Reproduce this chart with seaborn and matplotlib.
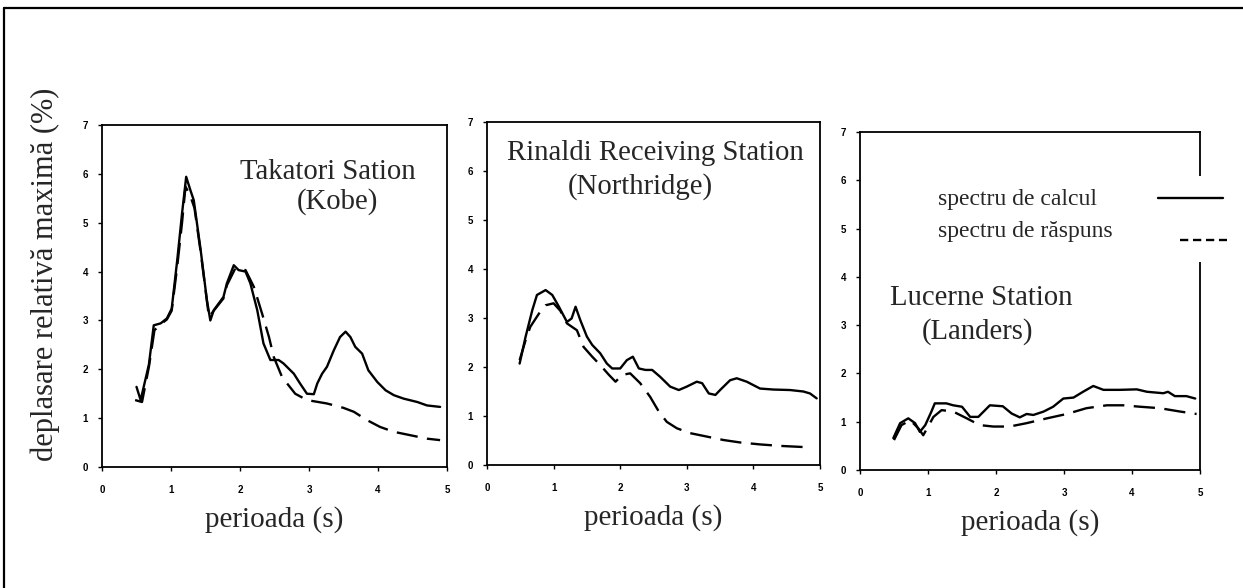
import numpy as np
import pandas as pd
import matplotlib
matplotlib.use("Agg")
import matplotlib.pyplot as plt
from matplotlib.lines import Line2D
from matplotlib.patches import Rectangle
import seaborn as sns

# ---------------- data ----------------
kobe_calc_x = [0.50,0.56,0.68,0.75,0.85,0.94,1.01,1.09,1.16,1.22,1.28,1.33,1.43,1.52,1.57,1.62,1.76,1.81,1.91,1.98,
               2.08,2.15,2.25,2.34,2.44,2.56,2.63,2.78,2.87,2.97,3.07,3.12,3.19,3.26,3.36,3.45,3.53,3.60,3.67,3.77,
               3.86,3.99,4.11,4.23,4.37,4.57,4.71,4.90]
kobe_calc_y = [1.64,1.37,2.10,2.90,2.94,3.04,3.24,4.23,5.19,5.94,5.67,5.46,4.44,3.42,3.00,3.21,3.48,3.76,4.13,4.03,
               4.00,3.76,3.21,2.53,2.19,2.19,2.12,1.91,1.71,1.50,1.49,1.71,1.91,2.05,2.39,2.66,2.77,2.66,2.46,2.32,
               1.98,1.74,1.57,1.47,1.40,1.33,1.26,1.23]
kobe_resp_x = [0.48,0.58,0.68,0.76,0.85,0.94,1.01,1.09,1.16,1.21,1.28,1.34,1.43,1.55,1.62,1.76,1.81,1.93,2.08,2.20,
               2.32,2.42,2.49,2.61,2.80,2.97,3.26,3.50,3.65,3.84,4.03,4.23,4.47,4.71,4.90]
kobe_resp_y = [1.37,1.33,2.05,2.80,2.92,3.02,3.20,4.10,5.00,5.74,5.55,5.30,4.40,3.07,3.20,3.45,3.72,4.06,4.03,3.69,
               3.14,2.66,2.25,1.84,1.50,1.37,1.30,1.21,1.13,0.96,0.82,0.72,0.65,0.58,0.55]

north_calc_x = [0.49,0.58,0.68,0.75,0.88,0.98,1.08,1.20,1.27,1.33,1.40,1.50,1.58,1.70,1.80,1.88,2.00,2.10,2.19,2.28,
                2.38,2.48,2.60,2.75,2.88,3.00,3.15,3.23,3.33,3.43,3.50,3.65,3.75,3.90,4.10,4.30,4.55,4.75,4.85,4.95]
north_calc_y = [2.07,2.62,3.16,3.47,3.57,3.47,3.23,2.92,2.99,3.23,2.96,2.62,2.45,2.28,2.07,1.97,1.97,2.14,2.21,1.97,
                1.94,1.94,1.80,1.60,1.53,1.60,1.70,1.67,1.46,1.43,1.53,1.73,1.77,1.70,1.56,1.54,1.53,1.50,1.46,1.36]
north_resp_x = [0.49,0.58,0.65,0.78,0.88,1.00,1.10,1.20,1.35,1.45,1.58,1.70,1.83,1.93,2.03,2.15,2.30,2.45,2.58,2.70,
                2.85,3.05,3.30,3.55,3.80,4.10,4.40,4.85]
north_resp_y = [2.14,2.55,2.82,3.09,3.26,3.30,3.15,2.89,2.75,2.41,2.21,2.04,1.84,1.70,1.84,1.87,1.67,1.39,1.09,0.88,
                0.75,0.65,0.58,0.51,0.46,0.42,0.39,0.36]

land_calc_x = [0.49,0.59,0.71,0.81,0.88,0.96,1.05,1.10,1.27,1.37,1.50,1.62,1.74,1.91,2.10,2.23,2.35,2.45,2.55,2.70,
               2.84,2.99,3.14,3.28,3.43,3.58,3.82,4.07,4.22,4.46,4.53,4.63,4.80,4.93]
land_calc_y = [0.66,0.97,1.07,0.97,0.79,0.93,1.21,1.38,1.38,1.34,1.31,1.10,1.10,1.34,1.32,1.17,1.09,1.16,1.14,1.21,
               1.31,1.48,1.50,1.62,1.74,1.66,1.66,1.67,1.62,1.59,1.62,1.53,1.53,1.48]
land_resp_x = [0.50,0.61,0.74,0.86,0.93,1.08,1.20,1.37,1.57,1.76,1.96,2.20,2.45,2.75,3.04,3.33,3.63,3.87,4.12,4.41,
               4.71,4.95]
land_resp_y = [0.62,0.93,1.03,0.86,0.72,1.10,1.24,1.21,1.07,0.93,0.90,0.90,0.97,1.07,1.16,1.28,1.34,1.34,1.31,1.28,
               1.21,1.16]

x_ticks = [0, 1, 2, 3, 4, 5]
y_ticks = [0, 1, 2, 3, 4, 5, 6, 7]
station_names = ["Takatori Sation", "Rinaldi Receiving Station", "Lucerne Station"]
quake_names = ["(Kobe)", "(Northridge)", "(Landers)"]
series_labels = ["spectru de calcul", "spectru de răspuns"]
x_label = "perioada (s)"
y_label = "deplasare relativă maximă (%)"

# ---------------- style ----------------
sns.set_theme(style="white")
plt.rcParams["font.family"] = ["Liberation Serif", "DejaVu Serif"]
plt.rcParams["axes.edgecolor"] = "black"

W, H = 1243, 588
fig = plt.figure(figsize=(W / 100, H / 100), dpi=100)
fig.patch.set_facecolor("white")

def fx(px):
    return px / W

def fy(py):
    return 1 - py / H

# axes boxes in pixels: (left, top, right, bottom)
boxes = [(102, 125, 447, 467), (487, 122, 820, 465), (860, 132, 1200, 470)]
panels = [
    (kobe_calc_x, kobe_calc_y, kobe_resp_x, kobe_resp_y),
    (north_calc_x, north_calc_y, north_resp_x, north_resp_y),
    (land_calc_x, land_calc_y, land_resp_x, land_resp_y),
]
axes = []
LW = 1.7
DASH = (9, 4)
for (l, t, r, b), (cx, cy, rx, ry) in zip(boxes, panels):
    ax = fig.add_axes([fx(l), fy(b), fx(r) - fx(l), fy(t) - fy(b)])
    df_c = pd.DataFrame({"x": cx, "y": cy})
    df_r = pd.DataFrame({"x": rx, "y": ry})
    sns.lineplot(data=df_c, x="x", y="y", ax=ax, color="black", lw=LW,
                 estimator=None, sort=False)
    sns.lineplot(data=df_r, x="x", y="y", ax=ax, color="black", lw=LW,
                 estimator=None, sort=False)
    ax.lines[-1].set_dashes(DASH)
    ax.set_xlim(0, 5)
    ax.set_ylim(0, 7)
    ax.set_xticks(x_ticks)
    ax.set_yticks(y_ticks)
    ax.set_xticklabels([str(v) for v in x_ticks], fontfamily="Liberation Sans",
                       fontweight="bold", fontsize=7)
    ax.set_yticklabels([str(v) for v in y_ticks], fontfamily="Liberation Sans",
                       fontweight="bold", fontsize=7)
    ax.tick_params(axis="x", direction="out", length=3, width=1, pad=10, colors="black")
    ax.tick_params(axis="y", direction="out", length=3, width=1, pad=7, colors="black")
    ax.tick_params(bottom=True, left=True)
    for s in ax.spines.values():
        s.set_linewidth(1.3)
        s.set_color("black")
    ax.set_ylabel("")
    ax.set_xlabel(x_label, fontsize=21, labelpad=8)
    axes.append(ax)

# station labels
label_pos = [((240, 172), (297, 202)), ((507, 153), (568, 187)), ((890, 298), (922, 332))]
for (p1, p2), s, q in zip(label_pos, station_names, quake_names):
    fig.text(fx(p1[0]), fy(p1[1]), s, fontsize=20.7, ha="left", va="center")
    fig.text(fx(p2[0]), fy(p2[1]), q, fontsize=20.7, ha="left", va="center")

# y label
fig.text(fx(45), fy(274), y_label, fontsize=22, rotation=90, ha="center", va="center")

# legend (text followed by line sample), covering the right spine of the last panel
fig.add_artist(Rectangle((fx(1190), fy(262)), fx(1240) - fx(1190), fy(176) - fy(262),
                         transform=fig.transFigure, facecolor="white", edgecolor="none", zorder=3))
fig.text(fx(938), fy(199), series_labels[0], fontsize=17, ha="left", va="center", zorder=4)
fig.text(fx(938), fy(232), series_labels[1], fontsize=17, ha="left", va="center", zorder=4)
fig.add_artist(Line2D([fx(1158), fx(1223)], [fy(198), fy(198)], transform=fig.transFigure,
                      color="black", lw=LW, zorder=4))
fig.add_artist(Line2D([fx(1180), fx(1227)], [fy(240), fy(240)], transform=fig.transFigure,
                      color="black", lw=LW, dashes=(3.5, 2), zorder=4))

# outer frame
fig.add_artist(Line2D([fx(4), fx(4)], [0, fy(8)], transform=fig.transFigure, color="black", lw=1.6))
fig.add_artist(Line2D([fx(4), 1], [fy(8), fy(8)], transform=fig.transFigure, color="black", lw=1.6))

fig.savefig("out.png", dpi=100, facecolor="white")
